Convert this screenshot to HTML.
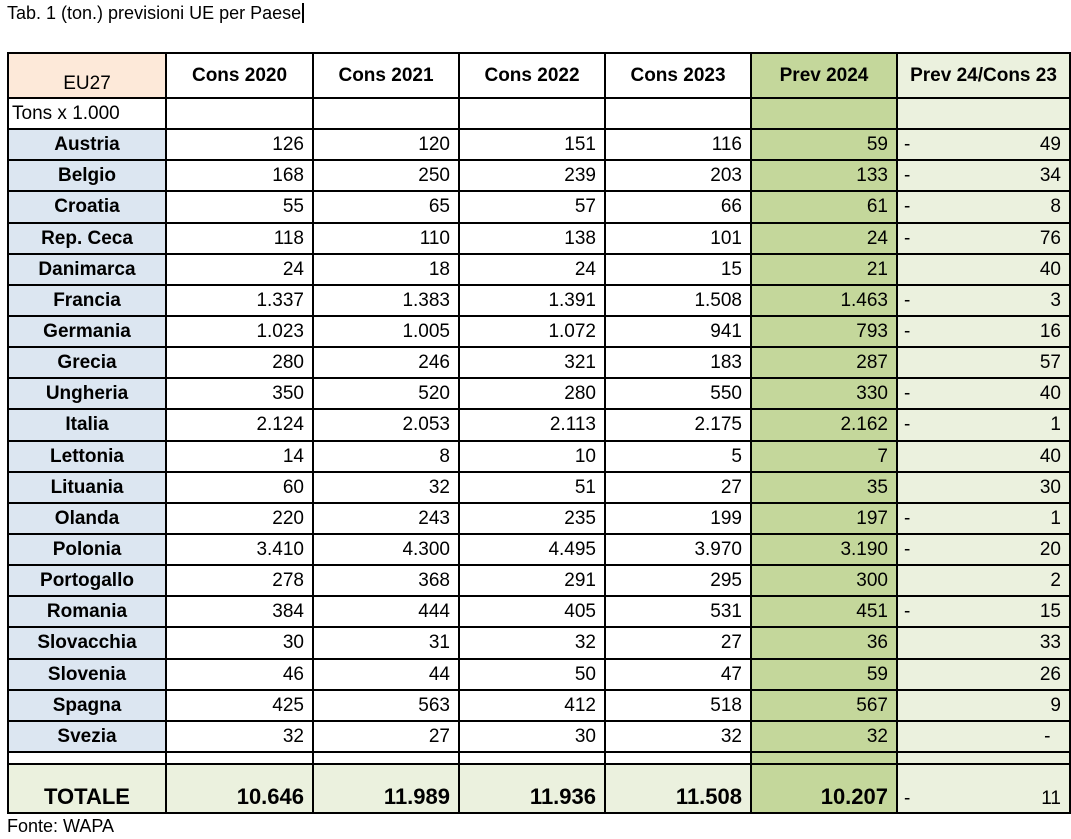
<!DOCTYPE html>
<html><head><meta charset="utf-8"><style>
body{margin:0;background:#fff;width:1071px;height:839px;position:relative;font-family:"Liberation Sans",sans-serif;color:#000;overflow:hidden}
.t{position:absolute;left:7px;top:3px;font-size:18px}
.f{position:absolute;left:7px;top:816px;font-size:18px}
table{position:absolute;left:7px;top:52px;border-collapse:collapse;table-layout:fixed;width:1062px}
td{border:2px solid #000;padding:0 8px;font-size:19px;white-space:nowrap;overflow:hidden;text-align:right;line-height:1}
td.c{background:#dce6f1;font-weight:bold;text-align:center}
td.g{background:#c4d79b}
td.l{background:#ebf1de;position:relative}
td.l span{position:absolute;left:6px}
tr.h td{font-weight:bold;text-align:center;height:39px}
tr.r td{height:29.15px}
tr.tot td{background:#ebf1de;font-weight:bold;font-size:22px;height:43px;vertical-align:bottom;padding-bottom:4px}
tr.tot td.g{background:#c4d79b}
</style></head><body>
<div class="t">Tab. 1 (ton.) previsioni UE per Paese<span style="border-left:2px solid #000;margin-left:1px"></span></div>
<table>
<colgroup><col style="width:158px"><col style="width:147px"><col style="width:146px"><col style="width:146px"><col style="width:146px"><col style="width:146px"><col style="width:173px"></colgroup>
<tr class="h"><td style="background:#fde9d9;font-weight:normal;vertical-align:bottom;padding-bottom:4px">EU27</td><td>Cons 2020</td><td>Cons 2021</td><td>Cons 2022</td><td>Cons 2023</td><td class="g">Prev 2024</td><td class="l" style="padding:0 4px">Prev 24/Cons 23</td></tr>
<tr class="r"><td style="text-align:left;padding-left:3px">Tons x 1.000</td><td></td><td></td><td></td><td></td><td class="g"></td><td class="l"></td></tr>
<tr class="r"><td class="c">Austria</td><td>126</td><td>120</td><td>151</td><td>116</td><td class="g">59</td><td class="l"><span>-</span>49</td></tr>
<tr class="r"><td class="c">Belgio</td><td>168</td><td>250</td><td>239</td><td>203</td><td class="g">133</td><td class="l"><span>-</span>34</td></tr>
<tr class="r"><td class="c">Croatia</td><td>55</td><td>65</td><td>57</td><td>66</td><td class="g">61</td><td class="l"><span>-</span>8</td></tr>
<tr class="r"><td class="c">Rep. Ceca</td><td>118</td><td>110</td><td>138</td><td>101</td><td class="g">24</td><td class="l"><span>-</span>76</td></tr>
<tr class="r"><td class="c">Danimarca</td><td>24</td><td>18</td><td>24</td><td>15</td><td class="g">21</td><td class="l">40</td></tr>
<tr class="r"><td class="c">Francia</td><td>1.337</td><td>1.383</td><td>1.391</td><td>1.508</td><td class="g">1.463</td><td class="l"><span>-</span>3</td></tr>
<tr class="r"><td class="c">Germania</td><td>1.023</td><td>1.005</td><td>1.072</td><td>941</td><td class="g">793</td><td class="l"><span>-</span>16</td></tr>
<tr class="r"><td class="c">Grecia</td><td>280</td><td>246</td><td>321</td><td>183</td><td class="g">287</td><td class="l">57</td></tr>
<tr class="r"><td class="c">Ungheria</td><td>350</td><td>520</td><td>280</td><td>550</td><td class="g">330</td><td class="l"><span>-</span>40</td></tr>
<tr class="r"><td class="c">Italia</td><td>2.124</td><td>2.053</td><td>2.113</td><td>2.175</td><td class="g">2.162</td><td class="l"><span>-</span>1</td></tr>
<tr class="r"><td class="c">Lettonia</td><td>14</td><td>8</td><td>10</td><td>5</td><td class="g">7</td><td class="l">40</td></tr>
<tr class="r"><td class="c">Lituania</td><td>60</td><td>32</td><td>51</td><td>27</td><td class="g">35</td><td class="l">30</td></tr>
<tr class="r"><td class="c">Olanda</td><td>220</td><td>243</td><td>235</td><td>199</td><td class="g">197</td><td class="l"><span>-</span>1</td></tr>
<tr class="r"><td class="c">Polonia</td><td>3.410</td><td>4.300</td><td>4.495</td><td>3.970</td><td class="g">3.190</td><td class="l"><span>-</span>20</td></tr>
<tr class="r"><td class="c">Portogallo</td><td>278</td><td>368</td><td>291</td><td>295</td><td class="g">300</td><td class="l">2</td></tr>
<tr class="r"><td class="c">Romania</td><td>384</td><td>444</td><td>405</td><td>531</td><td class="g">451</td><td class="l"><span>-</span>15</td></tr>
<tr class="r"><td class="c">Slovacchia</td><td>30</td><td>31</td><td>32</td><td>27</td><td class="g">36</td><td class="l">33</td></tr>
<tr class="r"><td class="c">Slovenia</td><td>46</td><td>44</td><td>50</td><td>47</td><td class="g">59</td><td class="l">26</td></tr>
<tr class="r"><td class="c">Spagna</td><td>425</td><td>563</td><td>412</td><td>518</td><td class="g">567</td><td class="l">9</td></tr>
<tr class="r"><td class="c">Svezia</td><td>32</td><td>27</td><td>30</td><td>32</td><td class="g">32</td><td class="l">-&nbsp;&nbsp;</td></tr>
<tr><td style="height:10px"></td><td></td><td></td><td></td><td></td><td class="g"></td><td class="l"></td></tr>
<tr class="tot"><td style="text-align:center">TOTALE</td><td>10.646</td><td>11.989</td><td>11.936</td><td>11.508</td><td class="g">10.207</td><td class="l" style="font-weight:normal;font-size:19px"><span>-</span>11</td></tr>
</table>
<div class="f">Fonte: WAPA</div>
</body></html>
